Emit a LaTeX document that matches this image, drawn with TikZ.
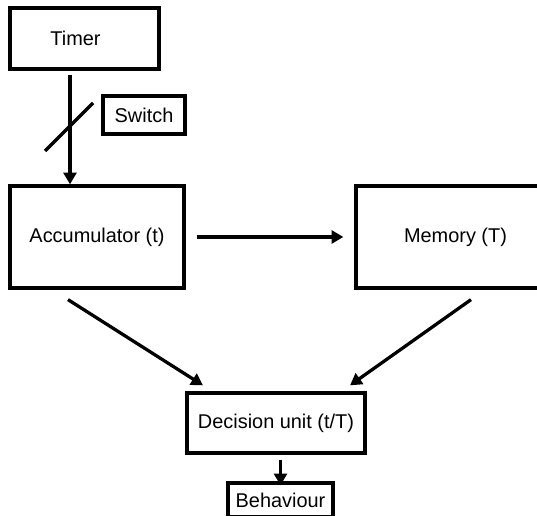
\documentclass[tikz,border=0pt]{standalone}
\usepackage{fontspec}
\setmainfont{Liberation Sans}
\usetikzlibrary{arrows.meta,positioning,calc}

\begin{document}
\begin{tikzpicture}[>={Triangle[length=10pt,width=11pt]},line width=2.8pt,
  box/.style={draw,rectangle,inner sep=0pt,font=\fontsize{17}{20}\selectfont}]
\clip (0,0) rectangle (16.11,15.48);
\node[box,minimum width=4.47cm,minimum height=1.83cm] (timer) at (2.535,14.325) {Timer\kern0.54cm};
\node[box,minimum width=2.46cm,minimum height=1.14cm] (switch) at (4.32,12.03) {Switch};
\node[box,minimum width=5.22cm,minimum height=3.06cm] (acc) at (2.91,8.37) {Accumulator (t)};
\node[box,minimum width=5.97cm,minimum height=3.06cm] (mem) at (13.665,8.37) {Memory (T)};
\node[box,minimum width=5.34cm,minimum height=1.8cm] (dec) at (8.28,2.79) {Decision unit (t/T)};
\node[box,minimum width=3.15cm,minimum height=1.02cm] (beh) at (8.415,0.48) {Behaviour};
% timer to accumulator, with the switch mark
\draw[->,shorten <=0.12cm] (timer.south -| 2.1,0) -- (acc.north -| 2.1,0);
\draw (1.35,10.95) -- (2.79,12.39);
\draw[->,shorten <=0.33cm,shorten >=0.33cm] (acc.east) -- (mem.west);
\draw[->] ($(acc.south)+(-0.87,-0.3)$) -- ($(dec.north)+(-2.19,0.18)$);
\draw[->] ($(mem.south)+(0.465,-0.3)$) -- ($(dec.north)+(2.22,0.18)$);
\draw[->,shorten <=0.15cm] (dec.south -| beh.north) -- ([yshift=-0.12cm]beh.north);
\end{tikzpicture}
\end{document}
